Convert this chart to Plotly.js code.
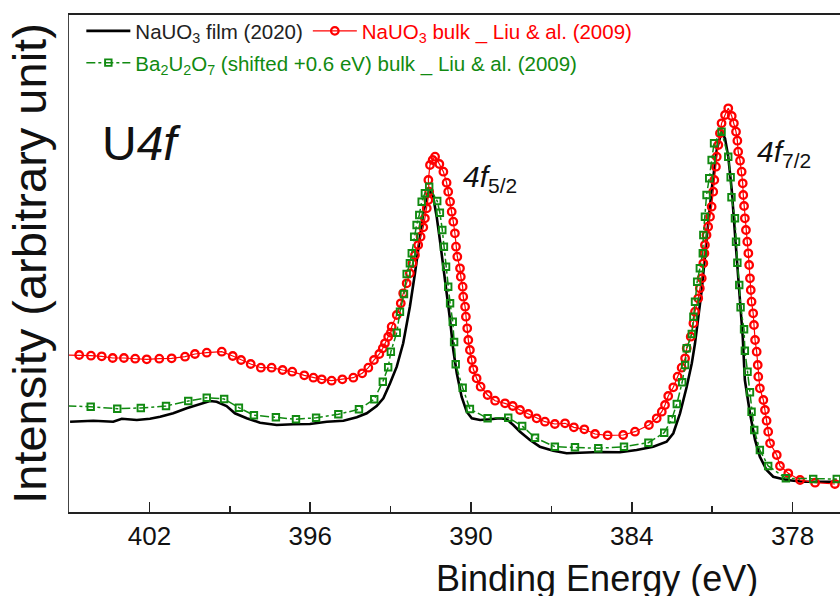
<!DOCTYPE html>
<html>
<head>
<meta charset="utf-8">
<script src="https://cdn.plot.ly/plotly-3.0.1.min.js"></script>
<style>html,body{margin:0;padding:0;background:#fff;}#chart{width:840px;height:596px;}</style>
</head>
<body>
<div id="chart"></div>
<script>
// NaUO3 film (2020) — binding energy (eV) and intensity (arb.)
const filmE = [404.96,404.09,403.35,403.03,402.47,401.98,401.60,401.11,400.61,400.11,399.74,399.49,399.12,398.81,398.37,397.87,397.25,396.63,396.01,395.38,394.76,394.26,393.89,393.52,393.27,393.02,392.77,392.53,392.28,392.09,391.93,391.78,391.65,391.53,391.41,391.28,391.16,391.03,390.91,390.78,390.66,390.53,390.35,390.16,389.97,389.66,389.29,388.92,388.67,388.42,388.17,387.80,387.43,386.93,386.43,385.93,385.19,384.44,383.82,383.20,382.70,382.45,382.20,381.95,381.76,381.64,381.39,381.21,381.02,380.83,380.65,380.52,380.40,380.27,380.15,380.03,379.86,379.78,379.59,379.40,379.22,378.97,378.72,378.22,377.60,376.98,376.23];
const filmI = [18.17,18.37,18.17,18.77,18.51,18.77,19.18,19.86,20.87,21.73,22.33,22.19,21.33,19.86,18.85,17.97,17.51,17.65,17.71,18.17,18.37,19.05,19.86,21.33,22.88,25.90,29.24,33.94,41.31,48.03,54.73,60.10,63.44,64.79,63.44,59.42,54.73,49.36,44.00,38.63,32.60,27.91,23.20,20.18,18.85,18.51,18.65,18.85,18.65,17.51,16.16,14.49,13.14,12.33,11.81,11.93,12.07,12.01,12.47,13.14,14.14,15.84,19.86,25.21,29.92,33.94,44.67,54.73,64.79,72.84,76.52,75.19,71.49,64.79,56.74,47.34,35.27,26.56,19.86,14.49,11.13,8.45,7.10,6.44,6.10,6.10,6.10];

// NaUO3 bulk — Liu & al. (2009)
const bulkE = [405.06,404.62,404.18,403.78,403.37,402.95,402.53,402.10,401.63,401.17,400.67,400.30,399.86,399.30,398.89,398.58,398.22,397.84,397.44,397.03,396.67,396.22,395.88,395.57,395.20,394.80,394.39,394.06,393.83,393.62,393.42,393.29,393.21,393.09,392.99,392.96,392.77,392.62,392.53,392.40,392.28,392.18,392.09,391.97,391.88,391.78,391.72,391.65,391.59,391.56,391.59,391.53,391.43,391.34,391.18,391.03,390.91,390.85,390.78,390.72,390.66,390.60,390.56,390.51,390.41,390.38,390.31,390.29,390.22,390.19,390.14,390.10,390.04,389.97,389.91,389.79,389.64,389.38,389.10,388.73,388.44,388.17,387.86,387.55,387.24,386.87,386.49,386.16,385.77,385.37,384.90,384.32,383.88,383.36,383.07,382.88,382.76,382.64,382.45,382.29,382.14,382.01,381.95,381.80,381.70,381.64,381.52,381.46,381.39,381.33,381.29,381.27,381.21,381.15,381.08,381.02,380.96,380.92,380.86,380.83,380.77,380.71,380.65,380.52,380.40,380.27,380.19,380.11,380.06,380.03,379.96,379.90,379.86,379.84,379.81,379.78,379.74,379.69,379.65,379.62,379.59,379.56,379.53,379.47,379.44,379.40,379.34,379.30,379.28,379.22,379.09,379.03,378.97,378.91,378.84,378.59,378.47,378.16,377.72,377.16,376.42];
const bulkI = [31.59,31.59,31.45,31.33,30.99,30.99,30.85,30.72,30.85,30.93,31.25,31.79,32.05,32.25,31.39,30.58,29.78,29.03,29.03,28.57,28.23,27.50,27.02,26.70,26.42,26.70,27.02,27.91,29.03,30.58,31.79,32.94,33.94,35.27,36.08,37.28,39.64,41.99,44.00,46.02,48.03,50.04,51.71,53.72,55.39,57.28,59.09,61.11,62.78,64.45,66.80,69.82,70.82,71.49,70.02,68.47,66.26,64.45,62.43,60.42,58.41,56.08,53.38,51.37,49.03,47.34,45.33,43.32,41.31,39.30,36.96,34.61,32.60,30.58,28.71,26.90,25.21,23.54,22.39,21.87,21.33,20.52,19.72,18.85,18.17,17.71,17.85,17.04,16.64,15.69,15.43,15.49,16.16,17.51,18.85,20.18,21.53,23.34,25.09,27.22,29.03,30.93,32.94,35.27,37.97,40.30,43.00,45.01,47.02,50.04,52.05,53.72,55.73,57.40,59.42,61.43,64.45,66.80,69.48,71.49,73.84,76.20,78.21,79.88,81.23,79.68,78.21,76.52,74.71,72.50,70.68,68.47,66.14,63.78,61.57,59.09,56.74,54.39,52.05,49.70,47.02,44.67,42.31,39.98,37.63,34.61,32.25,29.58,27.22,24.89,22.54,20.52,18.37,16.16,13.82,11.47,9.26,7.79,6.44,5.90,5.63];

// Ba2U2O7 (shifted +0.6 eV) bulk — Liu & al. (2009)
const baE = [405.06,404.19,403.20,402.32,401.38,400.55,399.86,399.21,398.66,398.10,397.28,396.53,395.78,394.95,394.18,393.61,393.29,393.09,392.99,392.77,392.65,392.50,392.40,392.28,392.21,392.12,392.03,391.93,391.84,391.72,391.56,391.26,391.16,391.07,391.01,390.93,390.85,390.78,390.68,390.63,390.57,390.31,390.04,389.38,388.61,388.09,387.61,386.87,386.12,385.25,384.29,383.38,382.79,382.51,382.32,382.12,382.01,381.95,381.76,381.70,381.64,381.56,381.46,381.35,381.33,381.27,381.21,381.11,381.02,380.93,380.65,380.40,380.31,380.28,380.15,380.11,380.06,379.99,379.94,379.81,379.78,379.68,379.59,379.53,379.43,379.22,378.91,378.25,377.23,376.35];
const baI = [21.33,21.19,20.78,20.93,21.33,22.33,23.00,22.74,20.99,19.46,19.05,18.65,18.97,19.66,20.66,22.68,26.22,29.11,32.25,36.08,40.30,43.86,47.89,50.04,52.05,55.39,57.75,59.76,62.43,64.13,65.45,62.58,60.22,56.74,53.38,49.36,45.33,41.99,38.29,34.21,29.72,25.01,20.72,18.85,18.97,17.30,14.95,13.14,13.02,12.82,13.14,13.94,15.96,18.65,21.73,26.10,29.58,32.94,35.81,39.30,42.31,46.34,49.03,52.05,55.73,59.42,63.78,67.14,70.82,74.19,76.52,71.49,67.34,63.32,59.09,54.39,50.16,45.67,41.19,36.76,32.45,28.23,24.08,20.18,16.50,12.47,9.26,6.78,6.64,6.64];

const xTickVals = [402, 396, 390, 384, 378];
const xTickText = ['402', '396', '390', '384', '378'];

const FONT = 'Arial, "Liberation Sans", Helvetica, sans-serif';
const RED = '#ff0000', GREEN = '#118a11';

const traces = [
  {x: filmE, y: filmI, type: 'scatter', mode: 'lines', legend: 'legend',
   name: '<span style="color:#222">NaUO<sub>3</sub> film (2020)</span>',
   line: {color: '#000', width: 2.6}},
  {x: bulkE, y: bulkI, type: 'scatter', mode: 'lines+markers', cliponaxis: false, legend: 'legend',
   name: '<span style="color:#ff0000">NaUO<sub>3</sub> bulk _ Liu &amp; al. (2009)</span>',
   line: {color: RED, width: 1.2},
   marker: {symbol: 'circle-open', size: 7.5, color: RED, line: {color: RED, width: 2.3}}},
  {x: baE, y: baI, type: 'scatter', mode: 'lines+markers', cliponaxis: false, legend: 'legend2',
   name: '<span style="color:#118a11">Ba<sub>2</sub>U<sub>2</sub>O<sub>7</sub> (shifted +0.6 eV) bulk _ Liu &amp; al. (2009)</span>',
   line: {color: GREEN, width: 1.5, dash: 'dashdot'},
   marker: {symbol: 'square-open', size: 6.5, color: GREEN, line: {color: GREEN, width: 1.9}}}
];

const legendCommon = {orientation: 'h', xanchor: 'left', yanchor: 'top',
  font: {family: FONT, size: 20.5}, bgcolor: 'rgba(0,0,0,0)', itemwidth: 44};

const layout = {
  width: 840, height: 596,
  margin: {l: 69, r: 0, t: 15, b: 84},
  paper_bgcolor: '#fff', plot_bgcolor: '#fff',
  font: {family: FONT, color: '#111'},
  showlegend: true,
  legend: Object.assign({x: 0.016, y: 1.008}, legendCommon),
  legend2: Object.assign({x: 0.016, y: 0.944}, legendCommon),
  xaxis: {range: [405, 376.23], autorange: false,
          tickmode: 'array', tickvals: xTickVals, ticktext: xTickText,
          ticks: 'inside', ticklen: 10, tickwidth: 1.5, tickcolor: '#222',
          minor: {tickmode: 'linear', tick0: 378, dtick: 3, ticks: 'inside', ticklen: 6, tickwidth: 1.5, tickcolor: '#222'},
          showline: true, linecolor: '#222', linewidth: 2, mirror: true,
          showgrid: false, zeroline: false,
          tickfont: {family: FONT, size: 26, color: '#111'}, ticklabelstandoff: 0},
  yaxis: {range: [0, 100], autorange: false,
          showticklabels: false, ticks: '', showgrid: false, zeroline: false,
          showline: true, linecolor: '#444', linewidth: 1.5,
          title: {text: 'Intensity (arbitrary unit)', font: {family: FONT, size: 47, color: '#111'}, standoff: 6}},
  annotations: [
    {xref: 'paper', yref: 'paper', x: 0.685, y: -0.133, xanchor: 'center', yanchor: 'middle', showarrow: false,
     text: 'Binding Energy (eV)', font: {family: FONT, size: 36, color: '#111'}},
    {xref: 'paper', yref: 'paper', x: 0.04, y: 0.742, xanchor: 'left', yanchor: 'middle', showarrow: false,
     text: 'U<i>4f</i>', font: {family: FONT, size: 48, color: '#111'}},
    {xref: 'paper', yref: 'paper', x: 0.508, y: 0.672, xanchor: 'left', yanchor: 'middle', showarrow: false,
     text: '<i>4f</i><sub>5/2</sub>', font: {family: FONT, size: 30, color: '#111'}},
    {xref: 'paper', yref: 'paper', x: 0.89, y: 0.722, xanchor: 'left', yanchor: 'middle', showarrow: false,
     text: '<i>4f</i><sub>7/2</sub>', font: {family: FONT, size: 30, color: '#111'}}
  ]
};

Plotly.newPlot('chart', traces, layout, {displayModeBar: false, staticPlot: true});
</script>
</body>
</html>
